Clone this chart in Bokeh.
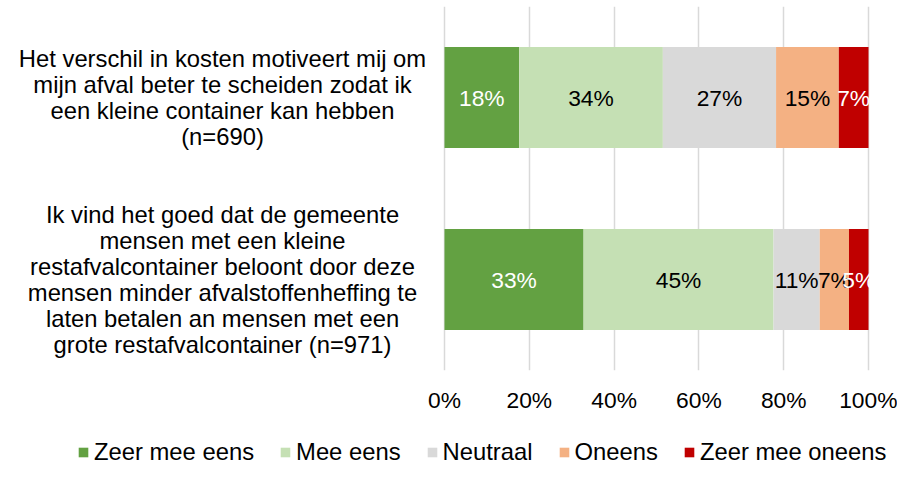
from bokeh.plotting import figure
from bokeh.layouts import column
from bokeh.models import (ColumnDataSource, FactorRange, Range1d, FixedTicker,
                          PrintfTickFormatter, LabelSet, Legend, LegendItem)
from bokeh.core.properties import value
from bokeh.embed import file_html
from bokeh.resources import INLINE

# ---------------- data ----------------
categories = [
    "Het verschil in kosten motiveert mij om\nmijn afval beter te scheiden zodat ik\neen kleine container kan hebben\n(n=690)",
    "Ik vind het goed dat de gemeente\nmensen met een kleine\nrestafvalcontainer beloont door deze\nmensen minder afvalstoffenheffing te\nlaten betalen an mensen met een\ngrote restafvalcontainer (n=971)",
]
series = ["Zeer mee eens", "Mee eens", "Neutraal", "Oneens", "Zeer mee oneens"]
zeer_mee_eens = [17.6, 32.8]
mee_eens = [33.9, 44.8]
neutraal = [26.7, 10.9]
oneens = [14.8, 6.9]
zeer_mee_oneens = [7.0, 4.6]
tick_values = [0, 20, 40, 60, 80, 100]

colors = ["#63A142", "#C5E0B4", "#D9D9D9", "#F4B183", "#C00000"]
label_colors = ["#FFFFFF", "#000000", "#000000", "#000000", "#FFFFFF"]
values = [zeer_mee_eens, mee_eens, neutraal, oneens, zeer_mee_oneens]

FONT = "Liberation Sans"
TXT = "23.8px"
NUM = "22.8px"

# ---------------- layout (pixels) ----------------
W = 897
H1, H2 = 438, 27                 # chart part, legend part
TOP, FRAME_H = 6, 364
PX0, PX100 = 444, 868            # screen x of 0% and 100%
PXLAB = 222                      # screen x of centre of category texts
k = 100.0 / (PX100 - PX0)
x_range = Range1d(-PX0 * k, (W - PX0) * k)
y_range = FactorRange(factors=list(reversed(categories)))
label_x = (PXLAB - PX0) * k

p = figure(width=W, height=H1, output_backend="svg", toolbar_location=None,
           x_range=x_range, y_range=y_range, y_axis_location=None,
           min_border_left=0, min_border_right=0, min_border_top=TOP,
           min_border_bottom=H1 - TOP - FRAME_H)
p.outline_line_color = None
p.background_fill_color = "white"
p.border_fill_color = "white"

data = {"cat": categories}
for name, vals in zip(series, values):
    data[name] = vals
src = ColumnDataSource(data)
renderers = p.hbar_stack(series, y="cat", height=0.556, color=colors,
                         line_color=None, source=src)

# data labels
lx, ly, lt, lc = [], [], [], []
for i, cat in enumerate(categories):
    cum = 0.0
    for j, vals in enumerate(values):
        v = vals[i]
        lx.append(cum + v / 2)
        ly.append(cat)
        lt.append(f"{v:.0f}%")
        lc.append(label_colors[j])
        cum += v
p.add_layout(LabelSet(x="x", y="y", text="t", text_color="c",
                      source=ColumnDataSource(dict(x=lx, y=ly, t=lt, c=lc)),
                      text_align="center", text_baseline="middle",
                      text_font=value(FONT), text_font_size=NUM))

# category texts (multi-line, centred)
cat_src = ColumnDataSource(dict(x=[label_x] * len(categories), y=categories, t=categories))
p.text(x="x", y="y", text="t", source=cat_src, text_align="center", text_baseline="middle",
       text_font=value(FONT), text_font_size=value(TXT), text_color="#000000",
       text_line_height=0.97)

# x axis and grid
p.ygrid.grid_line_color = None
p.xaxis.ticker = FixedTicker(ticks=tick_values)
p.xaxis.formatter = PrintfTickFormatter(format="%d%%")
p.xaxis.axis_line_color = None
p.xaxis.major_tick_line_color = None
p.xaxis.minor_tick_line_color = None
p.xaxis.major_tick_out = 0
p.xaxis.major_tick_in = 0
p.xaxis.major_label_standoff = 16
p.xaxis.major_label_text_font = FONT
p.xaxis.major_label_text_font_size = NUM
p.xaxis.major_label_text_color = "#000000"
p.xgrid.ticker = FixedTicker(ticks=tick_values)
p.xgrid.grid_line_color = "#D9D9D9"
p.xgrid.grid_line_width = 1.5

# legend strip (same data, bars hidden; only the legend is shown)
q = figure(width=W, height=H2, output_backend="svg", toolbar_location=None,
           x_range=x_range, y_range=y_range, x_axis_location=None, y_axis_location=None,
           min_border_left=0, min_border_right=0, min_border_top=0, min_border_bottom=0)
q.outline_line_color = None
q.grid.visible = False
q.background_fill_color = "white"
q.border_fill_color = "white"
legend_renderers = q.hbar_stack(series, y="cat", height=0.556, color=colors,
                                line_color=None, source=src)
for r in legend_renderers:
    r.visible = False

legend = Legend(items=[LegendItem(label=s, renderers=[r]) for s, r in zip(series, legend_renderers)],
                orientation="horizontal", location="left", margin=77,
                glyph_width=12, glyph_height=12, label_standoff=5, spacing=25,
                padding=0, border_line_color=None, background_fill_alpha=0,
                inactive_fill_alpha=0,
                label_text_font=FONT, label_text_font_size=TXT, label_text_color="#000000")
q.add_layout(legend, "center")

layout = column(p, q, spacing=0)
open("out.html", "w").write(file_html(layout, INLINE))
